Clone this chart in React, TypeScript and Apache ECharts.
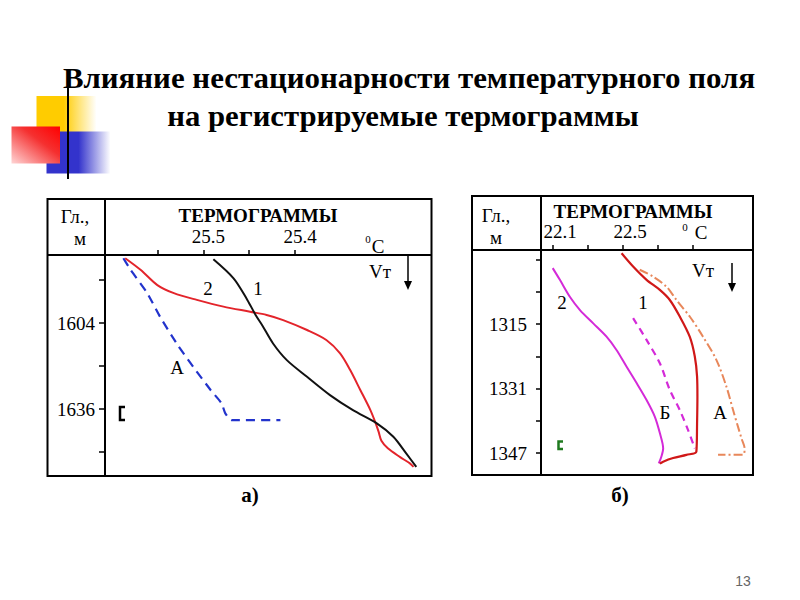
import React, { useEffect, useRef } from "react";
import * as echarts from "echarts";

// ---- axis ticks / labels ----
const leftTempTicks = [25.55, 25.5, 25.45, 25.4];
const leftTempLabels = [25.5, 25.4];
const leftDepthTicks = [1588, 1604, 1620, 1636, 1652];
const leftDepthLabels = [1604, 1636];

const rightTempTicks = [22.1, 22.3, 22.5, 22.7, 22.9];
const rightTempLabels = [22.1, 22.5];
const rightDepthTicks = [1299, 1307, 1315, 1323, 1331, 1339, 1347];
const rightDepthLabels = [1315, 1331, 1347];

// ---- panel а): [temperature °C, depth m] ----
const leftCurve1 = [
  [25.489, 1580.3], [25.467, 1587.4], [25.452, 1595.4], [25.443, 1601.0],
  [25.436, 1604.7], [25.424, 1611.6], [25.409, 1617.8], [25.387, 1624.0],
  [25.362, 1630.8], [25.337, 1636.4], [25.311, 1641.3], [25.293, 1646.3],
  [25.279, 1652.5], [25.268, 1657.5],
];
const leftCurve2 = [
  [25.585, 1579.9], [25.568, 1584.3], [25.55, 1589.9], [25.532, 1592.9],
  [25.507, 1595.4], [25.478, 1597.9], [25.449, 1599.8], [25.431, 1601.0],
  [25.413, 1602.9], [25.387, 1606.6], [25.366, 1610.3], [25.351, 1615.3],
  [25.34, 1621.5], [25.329, 1628.9], [25.318, 1636.4], [25.312, 1641.5],
  [25.309, 1644.5], [25.306, 1647.8], [25.299, 1650.6], [25.286, 1653.8],
  [25.275, 1656.2], [25.271, 1657.5],
];
const leftCurveA = [
  [25.587, 1579.9], [25.579, 1584.3], [25.561, 1592.9], [25.547, 1601.7],
  [25.529, 1611.6], [25.511, 1620.3], [25.492, 1628.9], [25.48, 1633.9],
  [25.476, 1637.6], [25.469, 1640.1], [25.416, 1640.1],
];

// ---- panel б): [temperature °C, depth m] ----
const rightCurve2 = [
  [22.097, 1301.1], [22.138, 1304.0], [22.195, 1308.2], [22.253, 1311.5],
  [22.329, 1314.8], [22.405, 1318.1], [22.462, 1321.4], [22.519, 1325.5],
  [22.577, 1329.6], [22.634, 1333.8], [22.681, 1337.9], [22.71, 1342.0],
  [22.729, 1345.8], [22.719, 1347.8], [22.704, 1349.5],
];
const rightCurve1 = [
  [22.491, 1297.4], [22.557, 1300.7], [22.634, 1304.0], [22.71, 1306.5],
  [22.767, 1309.0], [22.824, 1313.1], [22.881, 1318.1], [22.91, 1323.0],
  [22.923, 1328.0], [22.925, 1333.0], [22.923, 1339.6], [22.919, 1346.6],
  [22.862, 1347.4], [22.786, 1348.2], [22.729, 1349.1], [22.71, 1349.6],
];
const rightCurveB = [
  [22.557, 1313.5], [22.634, 1318.9], [22.71, 1324.7], [22.767, 1331.3],
  [22.824, 1336.3], [22.871, 1341.2], [22.91, 1345.8],
];
const rightCurveA = [
  [22.595, 1301.5], [22.671, 1303.2], [22.748, 1305.7], [22.805, 1309.0],
  [22.881, 1313.1], [22.957, 1318.1], [23.034, 1323.9], [23.091, 1330.5],
  [23.129, 1336.3], [23.157, 1340.4], [23.177, 1343.3], [23.195, 1345.8],
  [23.186, 1347.4], [23.043, 1347.4],
];

const SERIF = "'Liberation Serif', 'Times New Roman', serif";

function txt(x: number, y: number, text: string, size = 19, extra: any = {}) {
  return {
    type: "text",
    x,
    y,
    z: 10,
    scaleX: extra.scaleX || 1,
    style: {
      text,
      fill: extra.fill || "#000",
      font: `${extra.bold ? "bold " : ""}${size}px ${extra.family || SERIF}`,
      textAlign: extra.align || "center",
      textVerticalAlign: "middle",
    },
  };
}

function ln(x1: number, y1: number, x2: number, y2: number, w = 2, color: any = "#000") {
  return {
    type: "line",
    z: 5,
    shape: { x1, y1, x2, y2 },
    style: { stroke: color, lineWidth: w },
  };
}

function bracket(x: number, y1: number, y2: number, w: number, color: string) {
  return {
    type: "polyline",
    z: 6,
    shape: { points: [[x + w, y1], [x, y1], [x, y2], [x + w, y2]] },
    style: { stroke: color, lineWidth: 2.5, fill: "none" },
  };
}

export default function App() {
  const ref = useRef<HTMLDivElement>(null);

  useEffect(() => {
    if (!ref.current) return;
    const chart = echarts.init(ref.current, undefined, { renderer: "svg" });

    const axisLabelStyle = { fontFamily: SERIF, fontSize: 19, color: "#000" };
    const tickStyle = { color: "#000", width: 1.5 };

    const LG = echarts.graphic.LinearGradient;

    const option: any = {
      animation: false,
      backgroundColor: "#fff",
      grid: [
        { left: 105, top: 255, width: 326, height: 221 },
        { left: 541, top: 250, width: 212, height: 225 },
      ],
      xAxis: [
        {
          gridIndex: 0,
          type: "value",
          position: "top",
          inverse: true,
          min: 25.252,
          max: 25.607,
          axisLine: { show: false, onZero: false },
          splitLine: { show: false },
          axisTick: { show: true, customValues: leftTempTicks, length: 5, lineStyle: tickStyle },
          axisLabel: {
            ...axisLabelStyle,
            customValues: leftTempLabels,
            margin: 9,
            padding: [0, 0, 0, 10],
            formatter: (v: number) => v.toFixed(1),
          },
        },
        {
          gridIndex: 1,
          type: "value",
          position: "top",
          min: 22.03,
          max: 23.243,
          axisLine: { show: false, onZero: false },
          splitLine: { show: false },
          axisTick: { show: true, customValues: rightTempTicks, length: 5, lineStyle: tickStyle },
          axisLabel: {
            ...axisLabelStyle,
            customValues: rightTempLabels,
            margin: 9,
            padding: [0, 0, 0, 14],
            formatter: (v: number) => v.toFixed(1),
          },
        },
      ],
      yAxis: [
        {
          gridIndex: 0,
          type: "value",
          inverse: true,
          min: 1578.7,
          max: 1660.9,
          axisLine: { show: false, onZero: false },
          splitLine: { show: false },
          axisTick: { show: true, customValues: leftDepthTicks, length: 6, lineStyle: tickStyle },
          axisLabel: {
            ...axisLabelStyle,
            customValues: leftDepthLabels,
            margin: 10,
            formatter: (v: number) => String(v),
          },
        },
        {
          gridIndex: 1,
          type: "value",
          inverse: true,
          min: 1296.6,
          max: 1352.4,
          axisLine: { show: false, onZero: false },
          splitLine: { show: false },
          axisTick: { show: true, customValues: rightDepthTicks, length: 5, lineStyle: tickStyle },
          axisLabel: {
            ...axisLabelStyle,
            customValues: rightDepthLabels,
            margin: 14,
            formatter: (v: number) => String(v),
          },
        },
      ],
      series: [
        {
          type: "line", xAxisIndex: 0, yAxisIndex: 0, data: leftCurveA,
          showSymbol: false, smooth: 0.2,
          lineStyle: { color: "#2233cc", width: 2.2, type: [9, 6] },
        },
        {
          type: "line", xAxisIndex: 0, yAxisIndex: 0, data: leftCurve2,
          showSymbol: false, smooth: 0.3,
          lineStyle: { color: "#e3242b", width: 2 },
        },
        {
          type: "line", xAxisIndex: 0, yAxisIndex: 0, data: leftCurve1,
          showSymbol: false, smooth: 0.3,
          lineStyle: { color: "#111", width: 2 },
        },
        {
          type: "line", xAxisIndex: 1, yAxisIndex: 1, data: rightCurve2,
          showSymbol: false, smooth: 0.3,
          lineStyle: { color: "#d42ad8", width: 2 },
        },
        {
          type: "line", xAxisIndex: 1, yAxisIndex: 1, data: rightCurveB,
          showSymbol: false, smooth: 0.3,
          lineStyle: { color: "#d42ad8", width: 2.2, type: [7, 5] },
        },
        {
          type: "line", xAxisIndex: 1, yAxisIndex: 1, data: rightCurveA,
          showSymbol: false, smooth: 0.3,
          lineStyle: { color: "#e8875a", width: 2, type: [9, 3, 2, 3] },
        },
        {
          type: "line", xAxisIndex: 1, yAxisIndex: 1, data: rightCurve1,
          showSymbol: false, smooth: 0.3,
          lineStyle: { color: "#d01818", width: 2.2 },
        },
      ],
      graphic: [
        // decoration squares
        {
          type: "rect", z: 1,
          shape: { x: 36.5, y: 96, width: 60, height: 36 },
          style: {
            fill: new LG(0, 0, 1, 0, [
              { offset: 0, color: "#ffcc00" },
              { offset: 0.45, color: "#ffcc00" },
              { offset: 1, color: "#ffffff" },
            ]),
          },
        },
        {
          type: "rect", z: 1,
          shape: { x: 46.5, y: 131.5, width: 64, height: 42 },
          style: {
            fill: new LG(0, 0, 1, 0, [
              { offset: 0, color: "#3333cc" },
              { offset: 0.5, color: "#3333cc" },
              { offset: 1, color: "#ffffff" },
            ]),
          },
        },
        {
          type: "rect", z: 2,
          shape: { x: 11.5, y: 126.5, width: 48.5, height: 37 },
          style: {
            fill: new LG(1, 0, 0, 1, [
              { offset: 0, color: "#ff0000" },
              { offset: 0.4, color: "#f53030" },
              { offset: 1, color: "#ffd5d5" },
            ]),
          },
        },
        ln(68, 72, 68, 179, 2),
        {
          type: "line", z: 3,
          shape: { x1: 39, y1: 157, x2: 760, y2: 157 },
          style: {
            lineWidth: 3,
            stroke: new LG(0, 0, 1, 0, [
              { offset: 0, color: "#000000" },
              { offset: 0.2, color: "#1a1a1a" },
              { offset: 0.6, color: "#b0b0b0" },
              { offset: 0.85, color: "#eeeeee" },
              { offset: 1, color: "#ffffff" },
            ]),
          },
        },
        // title
        txt(409, 78, "Влияние нестационарности температурного поля", 30, { bold: true, scaleX: 1.03 }),
        txt(403, 116, "на регистрируемые термограммы", 30, { bold: true, scaleX: 1.025 }),

        // panel а) frame
        {
          type: "rect", z: 5,
          shape: { x: 47.5, y: 199, width: 384, height: 277 },
          style: { fill: "none", stroke: "#000", lineWidth: 2 },
        },
        ln(105, 199, 105, 476),
        ln(47.5, 255, 431.5, 255),
        txt(75, 216, "Гл.,", 19),
        txt(80, 238, "м", 19),
        txt(258, 215, "ТЕРМОГРАММЫ", 19, { bold: true }),
        txt(368, 239, "0", 11),
        txt(378, 246, "C", 19),
        txt(380, 271, "Vт", 19),
        ln(408, 255, 408, 284, 1.5),
        { type: "polygon", z: 6, shape: { points: [[404, 281], [412, 281], [408, 290]] }, style: { fill: "#000" } },
        txt(208, 288, "2", 19),
        txt(258, 288, "1", 19),
        txt(177, 367, "А", 19),
        bracket(120, 407, 420, 5, "#000"),
        txt(250, 495, "а)", 21, { bold: true }),

        // panel б) frame
        {
          type: "rect", z: 5,
          shape: { x: 472, y: 196, width: 281, height: 279 },
          style: { fill: "none", stroke: "#000", lineWidth: 2 },
        },
        ln(541, 196, 541, 475),
        ln(472, 250, 753, 250),
        txt(496, 215, "Гл.,", 19),
        txt(496, 237, "м", 19),
        txt(633, 211, "ТЕРМОГРАММЫ", 19, { bold: true }),
        txt(685, 227, "0", 11),
        txt(701, 232, "C", 19),
        txt(703, 270, "Vт", 19),
        ln(732, 263, 732, 286, 1.5),
        { type: "polygon", z: 6, shape: { points: [[728, 283], [736, 283], [732, 292]] }, style: { fill: "#000" } },
        txt(562, 302, "2", 19),
        txt(643, 302, "1", 19),
        txt(665, 412, "Б", 19),
        txt(720, 412, "А", 19),
        bracket(558.5, 441.5, 449, 4.5, "#1f7a1f"),
        txt(620, 495, "б)", 21, { bold: true }),

        // page number
        txt(743, 581, "13", 14, { fill: "#666", family: "'Liberation Sans', Arial, sans-serif" }),
      ],
    };

    chart.setOption(option);
    return () => chart.dispose();
  }, []);

  return (
    <div
      ref={ref}
      style={{ position: "absolute", left: 0, top: 0, width: 800, height: 600 }}
    />
  );
}
